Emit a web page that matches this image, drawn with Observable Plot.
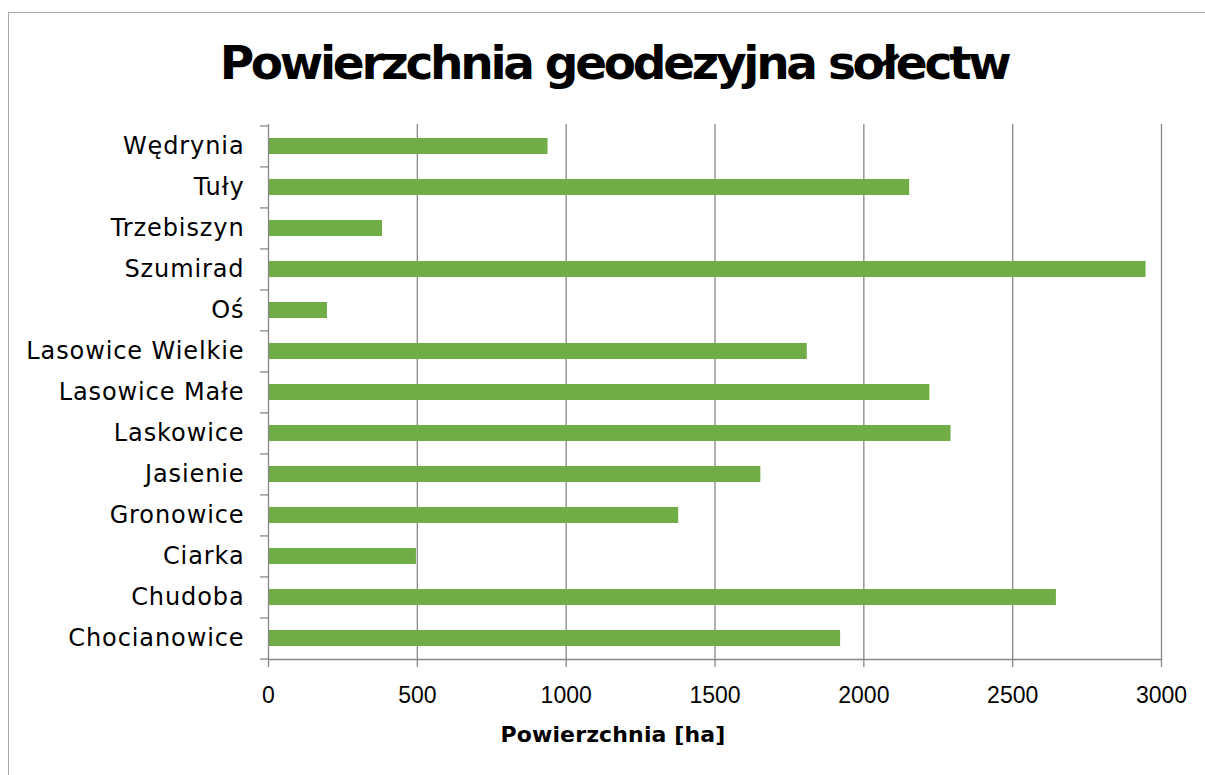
<!DOCTYPE html>
<html>
<head>
<meta charset="utf-8">
<script src="https://cdn.jsdelivr.net/npm/d3@7"></script>
<script src="https://cdn.jsdelivr.net/npm/@observablehq/plot@0.6"></script>
<style>
  html, body { margin: 0; padding: 0; background: #fff; width: 1205px; height: 775px; overflow: hidden; }
  #border { position: absolute; left: 8px; top: 12px; width: 1300px; height: 900px;
            border-left: 1.5px solid #a9a9a9; border-top: 1.5px solid #a9a9a9; }
  #chart { position: absolute; left: 0; top: 0; }
  #title { position: absolute; top: 35px; left: 0; width: 1228px; text-align: center;
           font-family: "DejaVu Sans", sans-serif; font-weight: bold; font-size: 47px; color: #000; white-space: nowrap; }
  #title span, #xlabel span { display: inline-block; }
  #xlabel { position: absolute; top: 722px; left: 0; width: 1226px; text-align: center;
            font-family: "DejaVu Sans", sans-serif; font-weight: bold; font-size: 22px; color: #000; white-space: nowrap; }
  #chart g[aria-label="y-axis tick label"] text { letter-spacing: 0.9px; }
</style>
</head>
<body>
<div id="border"></div>
<div id="chart"></div>
<div id="title"><span>Powierzchnia geodezyjna sołectw</span></div>
<div id="xlabel"><span>Powierzchnia [ha]</span></div>
<script>
const categories = ["Wędrynia", "Tuły", "Trzebiszyn", "Szumirad", "Oś", "Lasowice Wielkie",
  "Lasowice Małe", "Laskowice", "Jasienie", "Gronowice", "Ciarka", "Chudoba", "Chocianowice"];
const values = [939, 2154, 383, 2948, 198, 1810, 2222, 2293, 1654, 1378, 497, 2647, 1922];
const xTicks = [0, 500, 1000, 1500, 2000, 2500, 3000];

const data = categories.map((name, i) => ({name, value: values[i]}));

const W = 1205, H = 775, mT = 124, mB = 116, mL = 268, mR = 44;
const step = (H - mT - mB) / categories.length;
const gray = "#888888";

const chart = Plot.plot({
  width: W, height: H,
  marginTop: mT, marginBottom: mB, marginLeft: mL, marginRight: mR,
  style: {fontFamily: "DejaVu Sans, sans-serif", background: "transparent", color: "#000"},
  x: {domain: [0, 3000]},
  y: {domain: categories, paddingInner: 0.61, paddingOuter: 0.305},
  marks: [
    Plot.gridX(xTicks.slice(1), {stroke: gray, strokeOpacity: 1, strokeWidth: 1.3}),
    Plot.barX(data, {x: "value", y: "name", fill: "#70AD47"}),
    Plot.ruleX([0], {stroke: gray, strokeWidth: 1.3}),
    Plot.frame({anchor: "bottom", stroke: gray, strokeWidth: 1.3}),
    Plot.axisX(xTicks, {tickSize: 8, tickPadding: 19, stroke: gray, strokeWidth: 1.3, fill: "#000",
      fontSize: 23, fontFamily: "Liberation Sans, sans-serif", tickFormat: d => String(d), label: null}),
    Plot.axisY({tickSize: 0, tickPadding: 24, fontSize: 24, fill: "#000", label: null}),
    Plot.axisY({tickSize: 8, dy: -step / 2, tickFormat: () => "", stroke: gray, strokeWidth: 1.3, label: null}),
    Plot.axisY([categories[categories.length - 1]], {tickSize: 8, dy: step / 2, tickFormat: () => "", stroke: gray, strokeWidth: 1.3, label: null})
  ]
});
document.getElementById("chart").appendChild(chart);

function fitWidth(sel, target) {
  const span = document.querySelector(sel + " span");
  const n = span.textContent.length;
  const w = span.getBoundingClientRect().width;
  span.style.letterSpacing = ((target - w) / (n - 1)) + "px";
}
fitWidth("#title", 792);
fitWidth("#xlabel", 225);
</script>
</body>
</html>
